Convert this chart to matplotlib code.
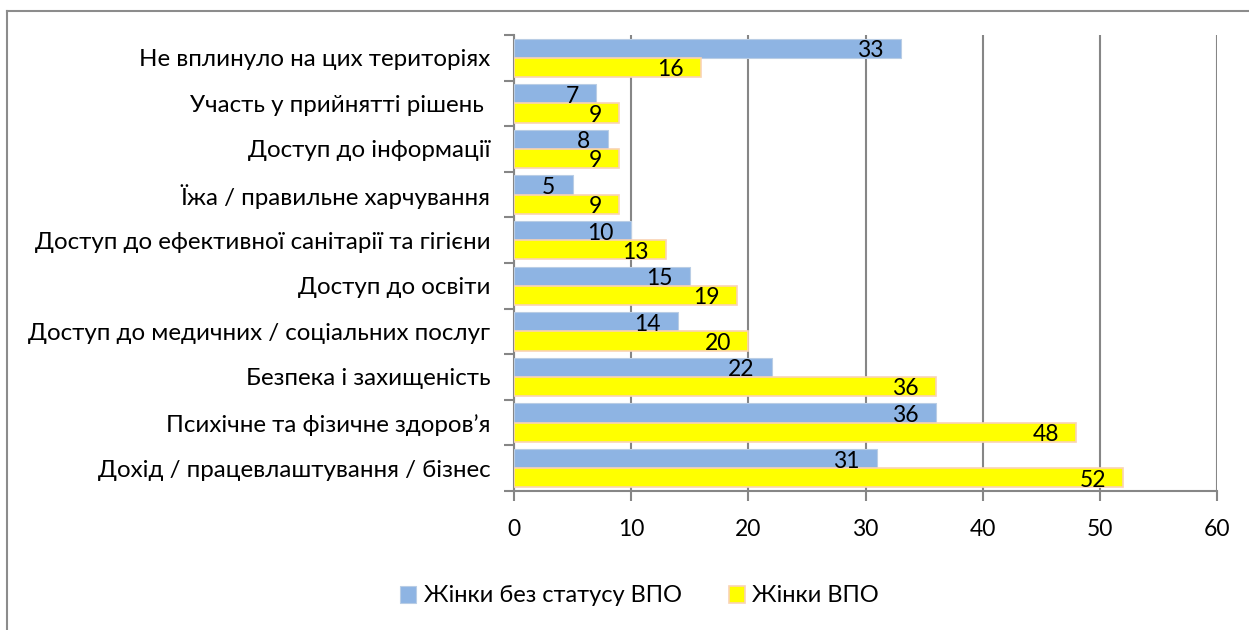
import numpy as np
import matplotlib.pyplot as plt
from matplotlib.lines import Line2D

plt.rcParams['font.family'] = ['Lato', 'DejaVu Sans']

categories = ['Не вплинуло на цих територіях',
              'Участь у прийнятті рішень ',
              'Доступ до інформації',
              'Їжа / правильне харчування',
              'Доступ до ефективної санітарії та гігієни',
              'Доступ до освіти',
              'Доступ до медичних / соціальних послуг',
              'Безпека і захищеність',
              'Психічне та фізичне здоров’я',
              'Дохід / працевлаштування / бізнес']
no_status = [33, 7, 8, 5, 10, 15, 14, 22, 36, 31]
idp = [16, 9, 9, 9, 13, 19, 20, 36, 48, 52]
series_names = ['Жінки без статусу ВПО', 'Жінки ВПО']
xticks = [0, 10, 20, 30, 40, 50, 60]

blue = '#8EB4E3'
yellow = '#FFFF00'
grid_col = '#868686'
fs = 16.5

fig = plt.figure(figsize=(12.49, 6.3), dpi=100)
ax = fig.add_axes([514 / 1249, 1 - 491 / 630, (1217 - 514) / 1249, (491 - 35) / 630])

y = np.arange(len(categories))
h = 0.42
b1 = ax.barh(y - h / 2, no_status, height=h, color=blue, edgecolor='#B9CDE5', linewidth=0.8,
             label=series_names[0], zorder=3)
b2 = ax.barh(y + h / 2, idp, height=h, color=yellow, edgecolor='#FAD3B4', linewidth=1.2,
             label=series_names[1], zorder=3)

for bars, vals in [(b1, no_status), (b2, idp)]:
    for rect, v in zip(bars, vals):
        ax.annotate(str(v), (v, rect.get_y() + rect.get_height()),
                    xytext=(-12.5, 0.5), textcoords='offset points',
                    ha='right', va='baseline', fontsize=fs, color='black', zorder=4)

ax.set_xlim(0, 60)
ax.set_ylim(len(categories) - 0.5, -0.5)
ax.set_xticks(xticks)
ax.set_xticklabels([str(t) for t in xticks], fontsize=fs)
ax.set_yticks(np.arange(len(categories) + 1) - 0.5)
ax.set_yticklabels([])
ax.set_yticks(y, minor=True)
ax.set_yticklabels(categories, minor=True, fontsize=17.4)
ax.tick_params(axis='y', which='minor', length=0, pad=17)
ax.tick_params(axis='y', which='major', length=7, width=1.5, color=grid_col)
ax.tick_params(axis='x', length=7, width=1.5, color=grid_col, pad=13)

ax.xaxis.grid(True, color=grid_col, linewidth=1.5, zorder=0)
ax.set_axisbelow(True)
for s in ['top', 'right']:
    ax.spines[s].set_visible(False)
for s in ['left', 'bottom']:
    ax.spines[s].set_color(grid_col)
    ax.spines[s].set_linewidth(1.5)

fig.legend(handles=[b1, b2], labels=series_names, loc='center', bbox_to_anchor=(0.512, 1 - 596 / 630),
           ncol=2, frameon=False, fontsize=17, handlelength=0.7, handleheight=0.7,
           handletextpad=0.3, columnspacing=2.0)

# outer chart border (only top and left edges visible)
fig.add_artist(Line2D([7 / 1249, 7 / 1249], [0, 1 - 11 / 630], color='#8C8C8C', linewidth=1.5))
fig.add_artist(Line2D([7 / 1249, 1], [1 - 11 / 630, 1 - 11 / 630], color='#8C8C8C', linewidth=1.5))

fig.savefig('out.png', dpi=100)
